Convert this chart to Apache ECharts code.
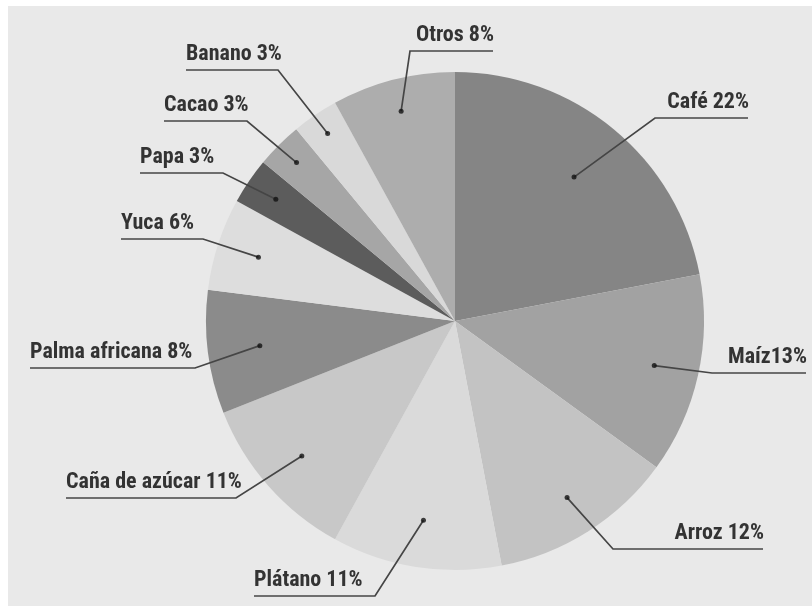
<!DOCTYPE html>
<html>
<head>
<meta charset="utf-8">
<script src="https://cdn.jsdelivr.net/npm/echarts@6/dist/echarts.min.js"></script>
<style>
  html, body { margin: 0; padding: 0; background: #ffffff; }
  #chart { width: 812px; height: 606px; }
</style>
</head>
<body>
<div id="chart"></div>
<script>
// Cultivos: participación porcentual
const categories = ['Café', 'Maíz', 'Arroz', 'Plátano', 'Caña de azúcar', 'Palma africana',
                    'Yuca', 'Papa', 'Cacao', 'Banano', 'Otros'];
const shares = [22, 13, 12, 11, 11, 8, 6, 3, 3, 3, 8];
const labelTexts = ['Café 22%', 'Maíz13%', 'Arroz 12%', 'Plátano 11%', 'Caña de azúcar 11%',
                    'Palma africana 8%', 'Yuca 6%', 'Papa 3%', 'Cacao 3%', 'Banano 3%', 'Otros 8%'];

// Styling / layout (kept apart from the values)
const sliceColors = ['#858585', '#a2a2a2', '#c3c3c3', '#dadada', '#c8c8c8', '#8b8b8b',
                     '#dddddd', '#5c5c5c', '#a6a6a6', '#d9d9d9', '#adadad'];
// how far out (fraction of the radius) each leader line starts inside its slice
const anchorRatio = [0.75, 0.82, 0.84, 0.81, 0.82, 0.79, 0.83, 0.87, 0.90, 0.91, 0.87];
// leader line: [bend x, far end x, underline y]
const leaders = [
  [655, 748, 118], [712, 806, 373], [613, 763, 549], [375, 254, 596],
  [236, 66, 498],  [195, 30, 368],  [203, 121, 239], [223, 140, 173],
  [247, 164, 121], [278, 186, 70],  [410, 493, 51]
];

const CX = 455, CY = 321, R = 249;
const total = shares.reduce((a, b) => a + b, 0);
const midShare = [];
let acc = 0;
shares.forEach(v => { midShare.push(acc + v / 2); acc += v; });

function anchorPoint(i) {
  const a = midShare[i] / total * Math.PI * 2;
  const r = anchorRatio[i] * R;
  return [CX + r * Math.sin(a), CY - r * Math.cos(a)];
}

const chart = echarts.init(document.getElementById('chart'), null, { renderer: 'canvas' });

const pieBase = {
  type: 'pie', center: [CX, CY], radius: [0, R], startAngle: 90, clockwise: true,
  avoidLabelOverlap: false, silent: true
};

chart.setOption({
  backgroundColor: '#ffffff',
  animation: false,
  graphic: [{
    type: 'rect', left: 8, top: 6, z: -10, silent: true,
    shape: { width: 804, height: 600 },
    style: { fill: '#e9e9e9' }
  }],
  polar: { center: [CX, CY], radius: R },
  angleAxis: { type: 'value', min: 0, max: total, startAngle: 90, clockwise: true, show: false },
  radiusAxis: { type: 'value', min: 0, max: 1, show: false },
  series: [
    Object.assign({}, pieBase, {
      z: 2,
      data: categories.map((name, i) => ({ name, value: shares[i], itemStyle: { color: sliceColors[i] } })),
      label: { show: false },
      labelLine: { show: false }
    }),
    Object.assign({}, pieBase, {
      // transparent twin that carries the labels and leader lines above the slices
      z: 4,
      data: categories.map((name, i) => ({ name, value: shares[i] })),
      itemStyle: { color: 'rgba(0,0,0,0)' },
      label: {
        show: true, position: 'outside',
        formatter: p => labelTexts[p.dataIndex],
        fontFamily: "Roboto, 'Open Sans', sans-serif",
        fontWeight: 'bold condensed',
        fontSize: 22, color: '#333333'
      },
      labelLine: {
        show: true, length: 10, length2: 10, smooth: false,
        lineStyle: { color: '#454545', width: 1.7 }
      },
      labelLayout: function (p) {
        const i = p.dataIndex;
        const [bx, ex, y] = leaders[i];
        const rightward = ex > bx;
        return {
          x: ex + (rightward ? 1 : 0), y: y - 5,
          align: rightward ? 'right' : 'left', verticalAlign: 'bottom',
          labelLinePoints: [anchorPoint(i), [bx, y], [ex, y]]
        };
      }
    }),
    {
      // anchor dots at the start of each leader line
      type: 'scatter', coordinateSystem: 'polar', silent: true,
      symbol: 'circle', symbolSize: 5, itemStyle: { color: '#111111' }, z: 5,
      data: midShare.map((m, i) => [anchorRatio[i], m])
    }
  ]
});
</script>
</body>
</html>
